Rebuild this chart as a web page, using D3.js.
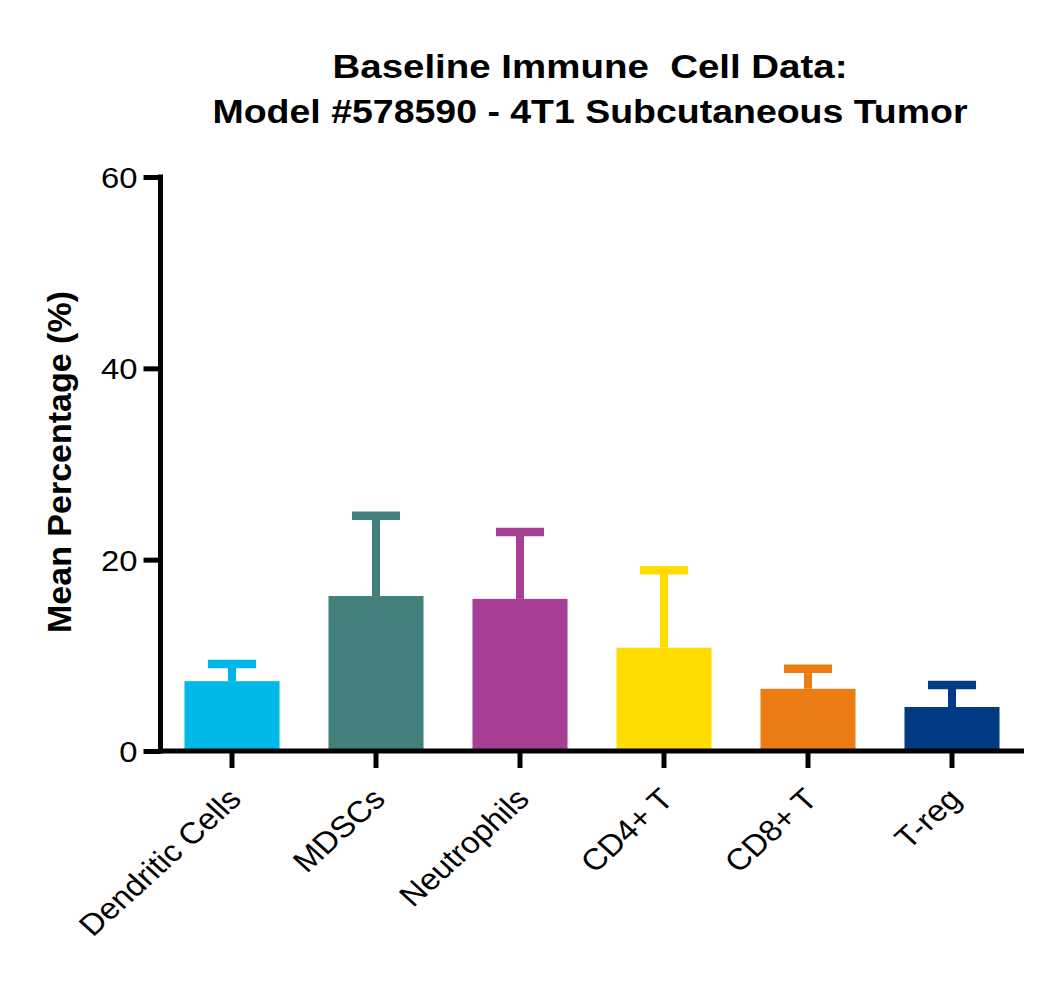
<!DOCTYPE html>
<html><head><meta charset="utf-8">
<script src="https://cdn.jsdelivr.net/npm/d3@7"></script>
<style>body{margin:0;background:#fff}svg{display:block}text{font-family:"Liberation Sans",Arial,sans-serif}</style>
</head><body><svg id="c" width="1050" height="987"></svg>
<script>
const categories = ["Dendritic Cells","MDSCs","Neutrophils","CD4+ T","CD8+ T","T-reg"];
const means = [7.3, 16.2, 15.9, 10.8, 6.5, 4.6];
const errors = [1.8, 8.4, 7.0, 8.1, 2.1, 2.3];
const colors = ["#00B8E7","#44807C","#A74094","#FFDD00","#EC7D15","#023B84"];
const yTicks = [0, 20, 40, 60];
const titleLines = ["Baseline Immune\u00A0 Cell Data:", "Model #578590 - 4T1 Subcutaneous Tumor"];
const yLabel = "Mean Percentage (%)";

const FONT = "Liberation Sans, Arial, sans-serif";
const svg = d3.select("#c");
const x = d3.scaleBand().domain(categories).range([160, 1024]).paddingInner(0.34).paddingOuter(0.17);
const y = d3.scaleLinear().domain([0, 60]).range([751, 177]);

// bars
svg.selectAll("rect.bar").data(categories).join("rect")
  .attr("x", d => x(d)).attr("width", x.bandwidth())
  .attr("y", (d,i) => y(means[i])).attr("height", (d,i) => y(0) - y(means[i]))
  .attr("fill", (d,i) => colors[i]);

// error bars
const g = svg.append("g");
categories.forEach((d,i) => {
  const cx = x(d) + x.bandwidth()/2;
  g.append("line").attr("x1", cx).attr("x2", cx)
    .attr("y1", y(means[i])).attr("y2", y(means[i] + errors[i]))
    .attr("stroke", colors[i]).attr("stroke-width", 8);
  g.append("line").attr("x1", cx - 24).attr("x2", cx + 24)
    .attr("y1", y(means[i] + errors[i])).attr("y2", y(means[i] + errors[i]))
    .attr("stroke", colors[i]).attr("stroke-width", 8.5);
});

// y axis
const ya = svg.append("g").attr("transform", "translate(160.5,0)")
  .call(d3.axisLeft(y).tickValues(yTicks).tickSize(17).tickPadding(7));
ya.select(".domain").attr("stroke", "#000").attr("stroke-width", 5).attr("d", `M0,${y(60)-2.5}V${y(0)+2.5}`);
ya.selectAll(".tick line").attr("stroke", "#000").attr("stroke-width", 5);
ya.selectAll(".tick text").style("font-size", "29px").attr("fill", "#000").style("font-family", FONT)
  .attr("x", 0).attr("dy", "0.36em").attr("transform", "translate(-23,0) scale(1.13,1)");

// x axis
const xa = svg.append("g").attr("transform", `translate(0,${y(0)})`)
  .call(d3.axisBottom(x).tickSize(17).tickPadding(6));
xa.select(".domain").attr("stroke", "#000").attr("stroke-width", 5).attr("d", "M158,0H1024");
xa.selectAll(".tick line").attr("stroke", "#000").attr("stroke-width", 5);
xa.selectAll(".tick text").style("font-size", "30px").attr("fill", "#000")
  .style("font-family", FONT)
  .attr("text-anchor", "end").attr("dy", "0")
  .attr("transform", "translate(11,50) scale(1.1,1) rotate(-45)").attr("y", 0).attr("x", 0);

// y label
svg.append("text").attr("transform", `translate(71,462) rotate(-90)`)
  .attr("text-anchor", "middle").style("font-size", "34px").attr("font-weight", "bold")
  .text(yLabel);

// title
const titleWidths = [515, 755];
svg.selectAll("text.title").data(titleLines).join("text").attr("class","title")
  .attr("x", 590).attr("y", (d,i) => 78 + i*45).attr("text-anchor", "middle")
  .style("font-size", "33.5px").attr("font-weight", "bold")
  .attr("textLength", (d,i) => titleWidths[i]).attr("lengthAdjust", "spacingAndGlyphs")
  .text(d => d);
</script></body></html>
